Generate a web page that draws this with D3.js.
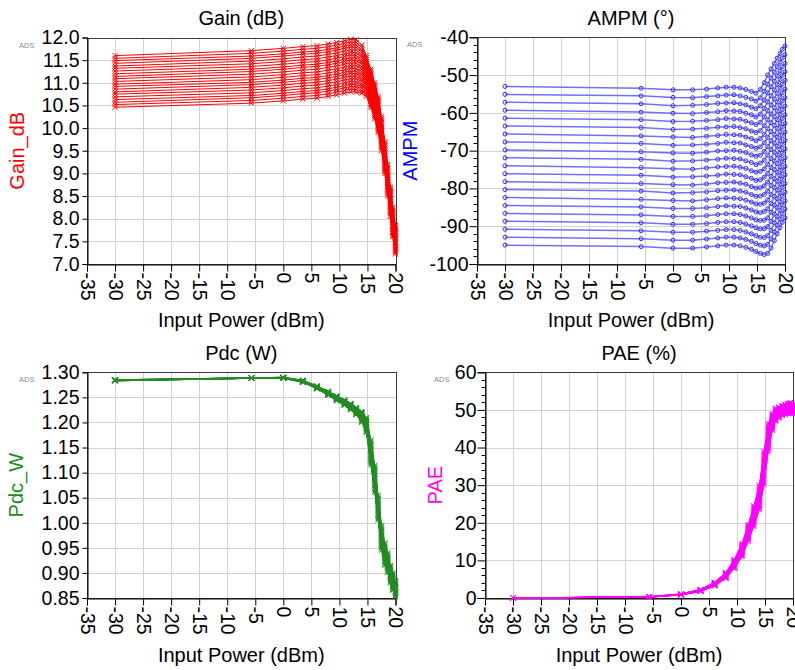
<!DOCTYPE html>
<html>
<head>
<meta charset="utf-8">
<script src="https://cdn.jsdelivr.net/npm/d3@7"></script>
<style>
  html, body { margin: 0; padding: 0; background: #ffffff; }
  svg { display: block; font-family: "Liberation Sans", Arial, sans-serif; }
</style>
</head>
<body>
<svg id="chart" width="795" height="670"></svg>
<script>
// Swept input power points (dBm), shared by every trace
const inputPower = [-30, -5.7, 0, 3.5, 6, 8, 9.5, 10.9, 12, 13, 14, 14.8, 15.6, 16.3, 16.9, 17.5, 18.1, 18.6, 19.1, 19.5, 20];
const xTicks = [-35, -30, -25, -20, -15, -10, -5, 0, 5, 10, 15, 20];

// Tick labels per panel
const gainTicks = [7.0, 7.5, 8.0, 8.5, 9.0, 9.5, 10.0, 10.5, 11.0, 11.5, 12.0];
const ampmTicks = [-100, -90, -80, -70, -60, -50, -40];
const pdcTicks = [0.85, 0.90, 0.95, 1.00, 1.05, 1.10, 1.15, 1.20, 1.25, 1.30];
const paeTicks = [0, 10, 20, 30, 40, 50, 60];

// Gain (dB), one row per swept trace
const gainTraces = [
  [11.60,11.71,11.76,11.80,11.82,11.86,11.89,11.93,11.96,11.95,11.83,11.60,11.30,11.00,10.70,10.25,9.70,9.20,8.70,8.25,7.85],
  [11.54,11.65,11.70,11.74,11.76,11.80,11.83,11.87,11.90,11.89,11.78,11.56,11.26,10.96,10.66,10.21,9.67,9.17,8.67,8.22,7.82],
  [11.49,11.59,11.64,11.68,11.70,11.74,11.77,11.81,11.84,11.83,11.72,11.51,11.22,10.92,10.62,10.18,9.63,9.13,8.64,8.19,7.79],
  [11.43,11.54,11.59,11.63,11.65,11.69,11.72,11.76,11.79,11.78,11.67,11.47,11.17,10.88,10.58,10.14,9.60,9.10,8.60,8.15,7.76],
  [11.37,11.48,11.53,11.57,11.59,11.63,11.66,11.70,11.73,11.72,11.62,11.42,11.13,10.84,10.54,10.10,9.56,9.06,8.57,8.12,7.72],
  [11.32,11.42,11.47,11.51,11.53,11.57,11.60,11.64,11.67,11.66,11.57,11.38,11.09,10.80,10.50,10.06,9.53,9.03,8.54,8.09,7.69],
  [11.26,11.36,11.41,11.45,11.47,11.51,11.54,11.58,11.61,11.60,11.51,11.33,11.05,10.76,10.46,10.03,9.49,8.99,8.51,8.06,7.66],
  [11.20,11.30,11.35,11.39,11.41,11.45,11.48,11.52,11.55,11.54,11.46,11.29,11.00,10.72,10.42,9.99,9.46,8.96,8.47,8.02,7.63],
  [11.14,11.25,11.30,11.34,11.36,11.40,11.43,11.47,11.50,11.49,11.41,11.24,10.96,10.68,10.38,9.95,9.42,8.92,8.44,7.99,7.60],
  [11.09,11.19,11.24,11.28,11.30,11.34,11.37,11.41,11.44,11.43,11.35,11.20,10.92,10.64,10.34,9.91,9.39,8.89,8.41,7.96,7.57],
  [11.03,11.13,11.18,11.22,11.24,11.28,11.31,11.35,11.38,11.37,11.30,11.15,10.88,10.60,10.30,9.88,9.35,8.85,8.38,7.93,7.54],
  [10.97,11.07,11.12,11.16,11.18,11.22,11.25,11.29,11.32,11.31,11.25,11.11,10.83,10.56,10.26,9.84,9.32,8.82,8.34,7.89,7.50],
  [10.92,11.01,11.06,11.10,11.12,11.16,11.19,11.23,11.26,11.25,11.19,11.06,10.79,10.52,10.22,9.80,9.28,8.78,8.31,7.86,7.47],
  [10.86,10.96,11.01,11.05,11.07,11.11,11.14,11.18,11.21,11.20,11.14,11.02,10.75,10.48,10.18,9.76,9.25,8.75,8.28,7.83,7.44],
  [10.80,10.90,10.95,10.99,11.01,11.05,11.08,11.12,11.15,11.14,11.09,10.97,10.71,10.44,10.14,9.73,9.21,8.71,8.25,7.80,7.41],
  [10.75,10.84,10.89,10.93,10.95,10.99,11.02,11.06,11.09,11.08,11.04,10.93,10.66,10.40,10.10,9.69,9.18,8.68,8.21,7.76,7.38],
  [10.69,10.78,10.83,10.87,10.89,10.93,10.96,11.00,11.03,11.02,10.98,10.88,10.62,10.36,10.06,9.65,9.14,8.64,8.18,7.73,7.35],
  [10.63,10.72,10.77,10.81,10.83,10.87,10.90,10.94,10.97,10.96,10.93,10.84,10.58,10.32,10.02,9.61,9.11,8.61,8.15,7.70,7.31],
  [10.57,10.67,10.72,10.76,10.78,10.82,10.85,10.89,10.92,10.91,10.88,10.79,10.53,10.28,9.98,9.58,9.07,8.57,8.12,7.67,7.28],
  [10.52,10.61,10.66,10.70,10.72,10.76,10.79,10.83,10.86,10.85,10.82,10.75,10.49,10.24,9.94,9.54,9.04,8.54,8.08,7.63,7.25],
  [10.46,10.55,10.60,10.64,10.66,10.70,10.73,10.77,10.80,10.79,10.77,10.70,10.45,10.20,9.90,9.50,9.00,8.50,8.05,7.60,7.22]
];

// AM-PM (degrees), one row per swept trace
const ampmTraces = [
  [-53.0,-53.5,-53.9,-53.9,-53.7,-53.4,-53.2,-53.2,-53.4,-53.8,-54.3,-54.8,-53.8,-52.0,-50.0,-48.4,-46.9,-45.5,-44.3,-43.2,-42.3],
  [-55.1,-55.5,-55.9,-56.0,-55.7,-55.5,-55.3,-55.2,-55.5,-55.9,-56.3,-56.9,-56.0,-54.3,-52.4,-50.8,-49.2,-47.8,-46.6,-45.5,-44.6],
  [-57.2,-57.6,-58.1,-58.0,-57.8,-57.5,-57.4,-57.3,-57.6,-57.9,-58.5,-58.9,-58.1,-56.6,-54.7,-53.1,-51.6,-50.2,-48.9,-47.8,-46.9],
  [-59.3,-59.8,-60.1,-60.2,-59.9,-59.7,-59.4,-59.5,-59.6,-60.1,-60.5,-61.1,-60.3,-58.8,-57.1,-55.5,-53.9,-52.5,-51.2,-50.1,-49.1],
  [-61.4,-61.8,-62.3,-62.2,-62.0,-61.8,-61.5,-61.6,-61.7,-62.2,-62.6,-63.1,-62.5,-61.1,-59.4,-57.9,-56.3,-54.8,-53.5,-52.4,-51.4],
  [-63.5,-63.9,-64.4,-64.3,-64.1,-63.8,-63.7,-63.6,-63.9,-64.2,-64.8,-65.2,-64.7,-63.4,-61.8,-60.3,-58.6,-57.1,-55.8,-54.7,-53.7],
  [-65.6,-66.1,-66.4,-66.5,-66.2,-66.0,-65.7,-65.8,-65.9,-66.4,-66.8,-67.4,-66.8,-65.7,-64.2,-62.6,-61.0,-59.5,-58.1,-56.9,-56.0],
  [-67.7,-68.1,-68.6,-68.5,-68.3,-68.1,-67.8,-67.9,-68.0,-68.5,-68.9,-69.4,-69.0,-67.9,-66.5,-65.0,-63.3,-61.8,-60.4,-59.2,-58.2],
  [-69.8,-70.3,-70.6,-70.7,-70.4,-70.1,-70.0,-69.9,-70.2,-70.5,-71.1,-71.5,-71.2,-70.2,-68.9,-67.4,-65.7,-64.1,-62.7,-61.5,-60.5],
  [-71.9,-72.3,-72.8,-72.7,-72.5,-72.3,-72.0,-72.1,-72.2,-72.7,-73.1,-73.7,-73.3,-72.5,-71.2,-69.7,-68.0,-66.4,-65.0,-63.8,-62.8],
  [-74.0,-74.5,-74.8,-74.9,-74.6,-74.3,-74.2,-74.1,-74.4,-74.7,-75.3,-75.7,-75.5,-74.8,-73.6,-72.1,-70.4,-68.8,-67.4,-66.1,-65.1],
  [-76.1,-76.5,-77.0,-76.9,-76.7,-76.5,-76.2,-76.3,-76.4,-76.9,-77.3,-77.9,-77.7,-77.0,-76.0,-74.5,-72.7,-71.1,-69.7,-68.4,-67.3],
  [-78.2,-78.7,-79.0,-79.1,-78.8,-78.5,-78.4,-78.3,-78.6,-78.9,-79.5,-79.9,-79.8,-79.3,-78.3,-76.8,-75.0,-73.4,-72.0,-70.7,-69.6],
  [-80.3,-80.7,-81.2,-81.1,-80.9,-80.6,-80.5,-80.4,-80.7,-81.0,-81.6,-82.1,-82.0,-81.6,-80.7,-79.2,-77.4,-75.7,-74.3,-73.0,-71.9],
  [-82.4,-82.9,-83.2,-83.3,-83.0,-82.7,-82.5,-82.6,-82.7,-83.1,-83.6,-84.1,-84.2,-83.9,-83.0,-81.6,-79.7,-78.1,-76.6,-75.3,-74.2],
  [-84.5,-84.9,-85.3,-85.3,-85.1,-84.8,-84.6,-84.7,-84.8,-85.2,-85.7,-86.2,-86.4,-86.1,-85.4,-84.0,-82.1,-80.4,-78.9,-77.6,-76.4],
  [-86.6,-87.0,-87.4,-87.4,-87.2,-86.9,-86.7,-86.7,-86.9,-87.3,-87.8,-88.3,-88.5,-88.4,-87.8,-86.3,-84.4,-82.7,-81.2,-79.8,-78.7],
  [-88.7,-89.1,-89.5,-89.5,-89.3,-89.0,-88.8,-88.8,-89.0,-89.4,-89.9,-90.4,-90.7,-90.7,-90.1,-88.7,-86.8,-85.0,-83.5,-82.1,-81.0],
  [-90.8,-91.2,-91.6,-91.6,-91.3,-91.1,-90.9,-90.9,-91.1,-91.5,-92.0,-92.5,-92.9,-93.0,-92.5,-91.1,-89.1,-87.4,-85.8,-84.4,-83.3],
  [-92.9,-93.3,-93.7,-93.7,-93.4,-93.1,-92.9,-92.9,-93.1,-93.5,-94.0,-94.6,-95.0,-95.2,-94.8,-93.4,-91.5,-89.7,-88.1,-86.7,-85.5],
  [-95.0,-95.4,-95.8,-95.8,-95.5,-95.2,-95.0,-95.0,-95.2,-95.6,-96.1,-96.7,-97.2,-97.5,-97.2,-95.8,-93.8,-92.0,-90.4,-89.0,-87.8]
];

// DC power (W), one row per swept trace
const pdcTraces = [
  [1.285,1.289,1.290,1.284,1.273,1.262,1.253,1.245,1.238,1.230,1.222,1.210,1.165,1.115,1.055,0.995,0.960,0.940,0.915,0.900,0.885],
  [1.285,1.289,1.290,1.284,1.273,1.262,1.253,1.244,1.237,1.229,1.221,1.209,1.163,1.112,1.053,0.993,0.958,0.938,0.913,0.898,0.883],
  [1.285,1.289,1.290,1.284,1.272,1.261,1.252,1.244,1.237,1.229,1.220,1.207,1.160,1.110,1.050,0.990,0.956,0.936,0.912,0.897,0.882],
  [1.285,1.289,1.290,1.283,1.272,1.261,1.252,1.243,1.236,1.228,1.219,1.206,1.158,1.107,1.048,0.988,0.953,0.934,0.910,0.895,0.880],
  [1.285,1.289,1.290,1.283,1.272,1.260,1.251,1.243,1.235,1.227,1.218,1.204,1.155,1.104,1.045,0.985,0.951,0.932,0.908,0.893,0.878],
  [1.284,1.289,1.289,1.283,1.272,1.260,1.251,1.242,1.235,1.226,1.217,1.203,1.153,1.101,1.043,0.983,0.949,0.930,0.906,0.891,0.877],
  [1.284,1.289,1.289,1.283,1.271,1.260,1.250,1.242,1.234,1.226,1.215,1.201,1.150,1.099,1.040,0.980,0.947,0.928,0.905,0.890,0.875],
  [1.284,1.289,1.289,1.283,1.271,1.259,1.250,1.241,1.233,1.225,1.214,1.200,1.148,1.096,1.038,0.978,0.944,0.926,0.903,0.888,0.873],
  [1.284,1.289,1.289,1.282,1.271,1.259,1.249,1.241,1.233,1.224,1.213,1.198,1.145,1.093,1.035,0.975,0.942,0.924,0.901,0.886,0.872],
  [1.284,1.289,1.289,1.282,1.270,1.258,1.249,1.240,1.232,1.223,1.212,1.197,1.143,1.090,1.033,0.973,0.940,0.922,0.899,0.884,0.870],
  [1.284,1.288,1.289,1.282,1.270,1.258,1.248,1.240,1.232,1.223,1.211,1.195,1.140,1.088,1.030,0.970,0.938,0.920,0.898,0.883,0.869],
  [1.284,1.288,1.289,1.282,1.270,1.258,1.248,1.239,1.231,1.222,1.210,1.194,1.138,1.085,1.028,0.968,0.935,0.918,0.896,0.881,0.867],
  [1.284,1.288,1.289,1.282,1.269,1.257,1.247,1.238,1.230,1.221,1.209,1.192,1.135,1.082,1.025,0.965,0.933,0.916,0.894,0.879,0.865],
  [1.284,1.288,1.289,1.281,1.269,1.257,1.247,1.238,1.230,1.220,1.208,1.191,1.133,1.079,1.023,0.963,0.931,0.914,0.892,0.877,0.864],
  [1.284,1.288,1.289,1.281,1.269,1.256,1.246,1.237,1.229,1.220,1.207,1.189,1.130,1.077,1.020,0.960,0.929,0.912,0.891,0.876,0.862],
  [1.284,1.288,1.288,1.281,1.269,1.256,1.246,1.237,1.228,1.219,1.206,1.188,1.128,1.074,1.018,0.958,0.926,0.910,0.889,0.874,0.860],
  [1.283,1.288,1.288,1.281,1.268,1.256,1.245,1.236,1.228,1.218,1.204,1.186,1.125,1.071,1.015,0.955,0.924,0.908,0.887,0.872,0.859],
  [1.283,1.288,1.288,1.281,1.268,1.255,1.245,1.236,1.227,1.217,1.203,1.185,1.123,1.068,1.013,0.953,0.922,0.906,0.885,0.870,0.857],
  [1.283,1.288,1.288,1.280,1.268,1.255,1.244,1.235,1.226,1.217,1.202,1.183,1.120,1.066,1.010,0.950,0.920,0.904,0.884,0.869,0.855],
  [1.283,1.288,1.288,1.280,1.267,1.254,1.244,1.235,1.226,1.216,1.201,1.182,1.118,1.063,1.008,0.948,0.917,0.902,0.882,0.867,0.854],
  [1.283,1.288,1.288,1.280,1.267,1.254,1.243,1.234,1.225,1.215,1.200,1.180,1.115,1.060,1.005,0.945,0.915,0.900,0.880,0.865,0.852]
];

// Power-added efficiency (%), one row per swept trace
const paeTraces = [
  [0.02,0.35,1.10,2.30,4.20,6.80,10.2,14.5,19.5,24.5,30.0,39.0,46.5,49.0,50.5,50.8,51.2,51.5,51.8,52.0,51.5],
  [0.02,0.34,1.09,2.27,4.15,6.72,10.1,14.3,19.3,24.2,29.7,38.6,46.1,48.8,50.3,50.7,51.1,51.4,51.7,51.9,51.4],
  [0.02,0.34,1.07,2.24,4.10,6.64,10.0,14.2,19.1,24.0,29.4,38.1,45.8,48.6,50.2,50.5,50.9,51.2,51.5,51.7,51.3],
  [0.02,0.33,1.06,2.21,4.05,6.56,9.8,14.0,18.8,23.7,29.0,37.7,45.4,48.3,50.0,50.4,50.8,51.1,51.4,51.6,51.1],
  [0.02,0.32,1.04,2.18,4.00,6.48,9.7,13.8,18.6,23.4,28.7,37.2,45.0,48.1,49.8,50.2,50.7,51.0,51.2,51.4,51.0],
  [0.01,0.31,1.03,2.15,3.95,6.40,9.6,13.6,18.4,23.1,28.4,36.8,44.6,47.9,49.6,50.1,50.5,50.8,51.1,51.3,50.9],
  [0.01,0.31,1.01,2.12,3.90,6.32,9.5,13.5,18.2,22.9,28.1,36.3,44.3,47.7,49.5,49.9,50.4,50.7,51.0,51.1,50.8],
  [0.01,0.30,1.00,2.09,3.85,6.24,9.4,13.3,17.9,22.6,27.7,35.9,43.9,47.4,49.3,49.8,50.3,50.6,50.8,51.0,50.6],
  [0.01,0.29,0.98,2.06,3.80,6.16,9.2,13.1,17.7,22.3,27.4,35.4,43.5,47.2,49.1,49.6,50.1,50.4,50.7,50.8,50.5],
  [0.01,0.28,0.97,2.03,3.75,6.08,9.1,12.9,17.5,22.0,27.1,35.0,43.1,47.0,48.9,49.5,50.0,50.3,50.5,50.7,50.4],
  [0.01,0.28,0.95,2.00,3.70,6.00,9.0,12.8,17.3,21.8,26.8,34.5,42.8,46.8,48.8,49.3,49.9,50.2,50.4,50.5,50.3],
  [0.01,0.27,0.94,1.97,3.65,5.92,8.9,12.6,17.0,21.5,26.4,34.1,42.4,46.5,48.6,49.2,49.7,50.0,50.3,50.4,50.1],
  [0.01,0.26,0.92,1.94,3.60,5.84,8.8,12.4,16.8,21.2,26.1,33.6,42.0,46.3,48.4,49.0,49.6,49.9,50.1,50.2,50.0],
  [0.01,0.25,0.91,1.91,3.55,5.76,8.6,12.2,16.6,20.9,25.8,33.2,41.6,46.1,48.2,48.9,49.5,49.8,50.0,50.1,49.9],
  [0.01,0.25,0.89,1.88,3.50,5.68,8.5,12.1,16.4,20.7,25.5,32.7,41.3,45.9,48.1,48.7,49.3,49.6,49.8,49.9,49.8],
  [0.00,0.24,0.88,1.85,3.45,5.60,8.4,11.9,16.1,20.4,25.1,32.3,40.9,45.6,47.9,48.6,49.2,49.5,49.7,49.8,49.6],
  [0.00,0.23,0.86,1.82,3.40,5.52,8.3,11.7,15.9,20.1,24.8,31.8,40.5,45.4,47.7,48.4,49.0,49.3,49.6,49.6,49.5],
  [0.00,0.22,0.85,1.79,3.35,5.44,8.2,11.5,15.7,19.8,24.5,31.4,40.1,45.2,47.5,48.3,48.9,49.2,49.4,49.5,49.4],
  [0.00,0.22,0.83,1.76,3.30,5.36,8.0,11.4,15.5,19.6,24.2,30.9,39.8,45.0,47.4,48.1,48.8,49.1,49.3,49.3,49.3],
  [0.00,0.21,0.82,1.73,3.25,5.28,7.9,11.2,15.2,19.3,23.8,30.5,39.4,44.7,47.2,48.0,48.6,48.9,49.1,49.2,49.1],
  [0.00,0.20,0.80,1.70,3.20,5.20,7.8,11.0,15.0,19.0,23.5,30.0,39.0,44.5,47.0,47.8,48.5,48.8,49.0,49.0,49.0]
];

const svg = d3.select("#chart");
const FONT = "'Liberation Sans', Arial, sans-serif";

// plain ASCII hyphen for negative tick values
const intFmt = d => (d < 0 ? "-" : "") + Math.abs(d);

// Layout of the four panels (plot rectangle in pixels)
const panels = [
  { title: "Gain (dB)", yLabel: "Gain_dB", color: "#ff0000", lineColor: "#ff0000", lineWidth: 1, traces: gainTraces,
    yDomain: [7, 12], yTicks: gainTicks, fmt: d3.format(".1f"), minorStep: null,
    left: 87, right: 395.5, top: 37.5, bottom: 264, marker: "x",
    yLabelX: 23.5, adsX: 19, titleY: 25, xLabelY: 327, tick: 5, pad: 3 },
  { title: "AMPM (\u00B0)", yLabel: "AMPM", color: "#0000ff", lineColor: "#7070ff", lineWidth: 1.5, traces: ampmTraces,
    yDomain: [-100, -40], yTicks: ampmTicks, fmt: intFmt, minorStep: 2,
    left: 477, right: 785, top: 37.3, bottom: 264, marker: "o",
    yLabelX: 417, adsX: 407, titleY: 25, xLabelY: 327, tick: 8, pad: 1 },
  { title: "Pdc (W)", yLabel: "Pdc_W", color: "#228b22", lineColor: "#228b22", lineWidth: 1, traces: pdcTraces,
    yDomain: [0.85, 1.30], yTicks: pdcTicks, fmt: d3.format(".2f"), minorStep: null,
    left: 87, right: 395.5, top: 372.3, bottom: 598, marker: "x",
    yLabelX: 23, adsX: 19, titleY: 360, xLabelY: 662, tick: 5, pad: 3 },
  { title: "PAE (%)", yLabel: "PAE", color: "#ff00ff", lineColor: "#ff00ff", lineWidth: 1, traces: paeTraces,
    yDomain: [0, 60], yTicks: paeTicks, fmt: intFmt, minorStep: 2,
    left: 485, right: 793, top: 372.3, bottom: 598, marker: "x",
    yLabelX: 442, adsX: 434, titleY: 360, xLabelY: 662, tick: 8, pad: 1 }
];

const crossPath = "M-2.5,-2.5L2.5,2.5M-2.5,2.5L2.5,-2.5";

panels.forEach(p => {
  const x = d3.scaleLinear().domain([-35, 20]).range([p.left, p.right]);
  const y = d3.scaleLinear().domain(p.yDomain).range([p.bottom, p.top]);
  const g = svg.append("g");

  // grid
  const grid = g.append("g").attr("stroke", "#d2d2d2").attr("stroke-width", 1)
    .attr("shape-rendering", "crispEdges");
  grid.selectAll("line.v").data(xTicks).join("line").attr("class", "v")
    .attr("x1", d => Math.round(x(d)) + 0.5).attr("x2", d => Math.round(x(d)) + 0.5)
    .attr("y1", p.top).attr("y2", p.bottom);
  grid.selectAll("line.h").data(p.yTicks).join("line").attr("class", "h")
    .attr("y1", d => Math.round(y(d)) + 0.5).attr("y2", d => Math.round(y(d)) + 0.5)
    .attr("x1", p.left).attr("x2", p.right);

  // frame
  g.append("rect")
    .attr("x", Math.round(p.left) + 0.5).attr("y", Math.round(p.top) + 0.5)
    .attr("width", Math.round(p.right) - Math.round(p.left))
    .attr("height", Math.round(p.bottom) - Math.round(p.top))
    .attr("fill", "none").attr("stroke", "#3a3a3a").attr("stroke-width", 1)
    .attr("shape-rendering", "crispEdges");

  // y axis
  const yAxis = g.append("g").attr("transform", `translate(${Math.round(p.left) + 0.5},0)`)
    .call(d3.axisLeft(y).tickValues(p.yTicks).tickFormat(p.fmt)
      .tickSize(p.tick).tickPadding(p.pad));
  if (p.minorStep) {
    const minors = d3.range(p.yDomain[0], p.yDomain[1] + 0.001, p.minorStep)
      .filter(v => !p.yTicks.includes(v));
    yAxis.selectAll("line.minor").data(minors).join("line")
      .attr("class", "minor")
      .attr("x1", -4).attr("x2", 0)
      .attr("y1", d => Math.round(y(d)) + 0.5).attr("y2", d => Math.round(y(d)) + 0.5)
      .attr("stroke", "#000");
  }

  // x axis
  const xAxis = g.append("g").attr("transform", `translate(0,${Math.round(p.bottom) + 0.5})`)
    .call(d3.axisBottom(x).tickValues(xTicks).tickFormat(intFmt).tickSize(7));
  xAxis.selectAll("text")
    .attr("transform", "rotate(90)")
    .attr("x", 8).attr("y", 0).attr("dy", "0.35em")
    .style("text-anchor", "start");

  [yAxis, xAxis].forEach(a => {
    a.attr("font-family", FONT).attr("font-size", 19.5);
    a.select(".domain").attr("stroke", "#000");
    a.selectAll(".tick line").attr("stroke", "#000");
    a.selectAll("text").attr("fill", "#000");
  });

  // traces, drawn above the frame and axes
  const line = d3.line().x((d, i) => x(inputPower[i])).y(d => y(d));
  const traces = g.append("g");
  traces.selectAll("path.trace").data(p.traces).join("path")
    .attr("class", "trace")
    .attr("d", line)
    .attr("fill", "none")
    .attr("stroke", p.lineColor)
    .attr("stroke-width", p.lineWidth);

  const pts = p.traces.flatMap(row => row.map((v, i) => [inputPower[i], v]));
  if (p.marker === "o") {
    traces.selectAll("circle").data(pts).join("circle")
      .attr("cx", d => x(d[0])).attr("cy", d => y(d[1])).attr("r", 2)
      .attr("fill", "none").attr("stroke", "#3030ff").attr("stroke-width", 1);
  } else {
    traces.selectAll("path.mk").data(pts).join("path")
      .attr("class", "mk")
      .attr("transform", d => `translate(${x(d[0])},${y(d[1])})`)
      .attr("d", crossPath)
      .attr("fill", "none").attr("stroke", p.color).attr("stroke-width", 1);
  }

  // titles and labels
  const cx = (p.left + p.right) / 2;
  const cy = (p.top + p.bottom) / 2;
  g.append("text").attr("x", cx).attr("y", p.titleY)
    .attr("text-anchor", "middle").attr("font-family", FONT).attr("font-size", 20)
    .attr("fill", "#000").text(p.title);
  g.append("text").attr("x", cx).attr("y", p.xLabelY)
    .attr("text-anchor", "middle").attr("font-family", FONT).attr("font-size", 20)
    .attr("fill", "#000").text("Input Power (dBm)");
  g.append("text")
    .attr("transform", `translate(${p.yLabelX},${cy}) rotate(-90)`)
    .attr("text-anchor", "middle").attr("font-family", FONT).attr("font-size", 20)
    .attr("fill", p.color).text(p.yLabel);
  g.append("text").attr("x", p.adsX).attr("y", p.top + 10)
    .attr("font-family", FONT).attr("font-size", 7.5).attr("fill", "#8a8a8a")
    .text("ADS");
});
</script>
</body>
</html>
